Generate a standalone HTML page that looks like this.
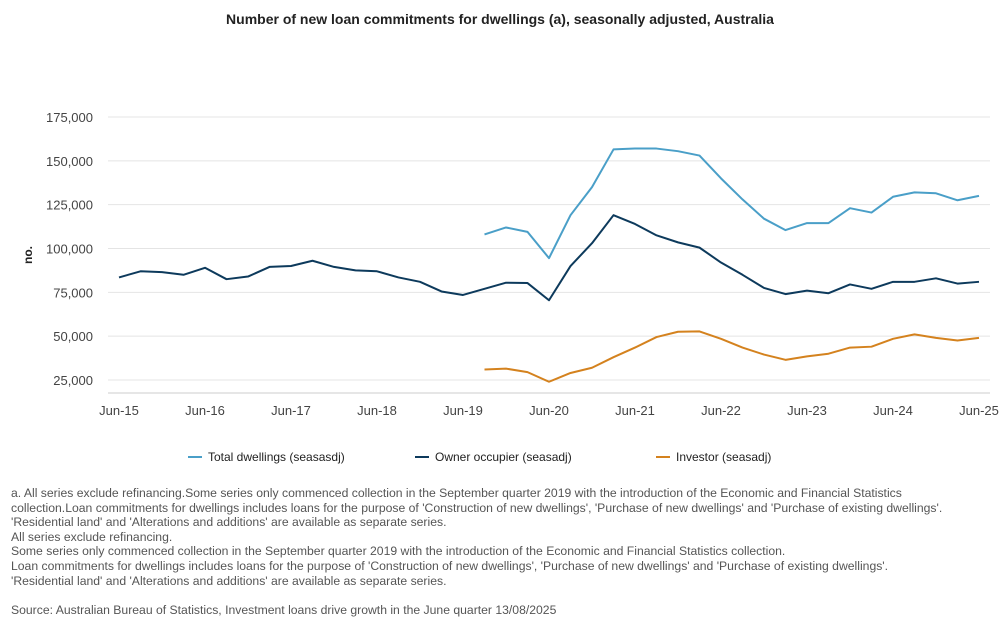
<!DOCTYPE html>
<html><head><meta charset="utf-8"><style>
body{margin:0;background:#fff;font-family:"Liberation Sans",sans-serif;width:1000px;height:636px;overflow:hidden;position:relative}
.t{position:absolute;left:0;width:1000px;top:11px;text-align:center;font-size:14px;font-weight:bold;color:#222}
.notes{position:absolute;left:11px;top:486px;font-size:12.2px;color:#555;line-height:14.6px;white-space:nowrap}
svg{position:absolute;left:0;top:0}
</style></head><body>
<div class="t">Number of new loan commitments for dwellings (a), seasonally adjusted, Australia</div>
<svg id="c" width="1000" height="480"></svg>
<div class="notes">a. All series exclude refinancing.Some series only commenced collection in the September quarter 2019 with the introduction of the Economic and Financial Statistics<br>collection.Loan commitments for dwellings includes loans for the purpose of 'Construction of new dwellings', 'Purchase of new dwellings' and 'Purchase of existing dwellings'.<br>'Residential land' and 'Alterations and additions' are available as separate series.<br>All series exclude refinancing.<br>Some series only commenced collection in the September quarter 2019 with the introduction of the Economic and Financial Statistics collection.<br>Loan commitments for dwellings includes loans for the purpose of 'Construction of new dwellings', 'Purchase of new dwellings' and 'Purchase of existing dwellings'.<br>'Residential land' and 'Alterations and additions' are available as separate series.<br><br>Source: Australian Bureau of Statistics, Investment loans drive growth in the June quarter 13/08/2025</div>
<script>
const xLabels=["Jun-15","Jun-16","Jun-17","Jun-18","Jun-19","Jun-20","Jun-21","Jun-22","Jun-23","Jun-24","Jun-25"];
const yTicks=[25000,50000,75000,100000,125000,150000,175000];
const owner=[83.5,87,86.5,85,89,82.5,84,89.5,90,93,89.5,87.5,87,83.5,81,75.5,73.5,77,80.5,80.3,70.5,90,103,119,114,107.5,103.5,100.5,92,85,77.5,74,76,74.5,79.5,77,81,81,83,80,81];
const total=[null,null,null,null,null,null,null,null,null,null,null,null,null,null,null,null,null,108,112,109.5,94.5,119,135,156.5,157,157,155.5,153,140,128,117,110.5,114.5,114.5,123,120.5,129.5,132,131.5,127.5,130];
const investor=[null,null,null,null,null,null,null,null,null,null,null,null,null,null,null,null,null,31,31.5,29.5,24,29,32,38,43.5,49.5,52.5,52.7,48.5,43.5,39.5,36.5,38.5,40,43.5,44,48.5,51,49,47.5,49];
const svg=document.getElementById('c');
const NS='http://www.w3.org/2000/svg';
const X=i=>119+i*21.5;
const Y=v=>380-(v-25000)*263/150000;
function mk(t,a,txt){const e=document.createElementNS(NS,t);for(const k in a)e.setAttribute(k,a[k]);if(txt!=null)e.textContent=txt;svg.appendChild(e);return e;}
yTicks.forEach(v=>{
 const g=mk('line',{x1:108,x2:990,y1:Y(v),y2:Y(v),stroke:'#e4e4e4'});
 
 
 const t=mk('text',{x:93,y:Y(v)+5,'text-anchor':'end','font-size':13,fill:'#444'},v.toLocaleString('en-US'));
 
 
});
const ax=mk('line',{x1:108,x2:990,y1:393,y2:393,stroke:'#ccc'});


xLabels.forEach((l,i)=>{
 const t=mk('text',{x:X(i*4),y:415,'text-anchor':'middle','font-size':13,fill:'#444'},l);
 
 
});
const yt=mk('text',{x:32,y:255,'text-anchor':'middle','font-size':12,'font-weight':'bold',fill:'#222',transform:'rotate(-90 32 255)'},'no.');


function line(arr,col,name){
 let d='';arr.forEach((v,i)=>{if(v==null)return;d+=(d?'L':'M')+X(i)+' '+Y(v*1000);});
 const p=mk('path',{d:d,fill:'none',stroke:col,'stroke-width':2,'stroke-linejoin':'round'});
 
 
}
line(total,'#4a9fc8','total-dwellings-line');
line(owner,'#0d3a5c','owner-occupier-line');
line(investor,'#d4821e','investor-line');
[['Total dwellings (seasasdj)','#4a9fc8',188],['Owner occupier (seasadj)','#0d3a5c',415],['Investor (seasadj)','#d4821e',656]].forEach(([l,c,x])=>{
 const s=mk('line',{x1:x,x2:x+14,y1:457,y2:457,stroke:c,'stroke-width':2});
 
 
 const t=mk('text',{x:x+20,y:461,'font-size':12,fill:'#222'},l);
 
 
});
</script>
</body></html>
